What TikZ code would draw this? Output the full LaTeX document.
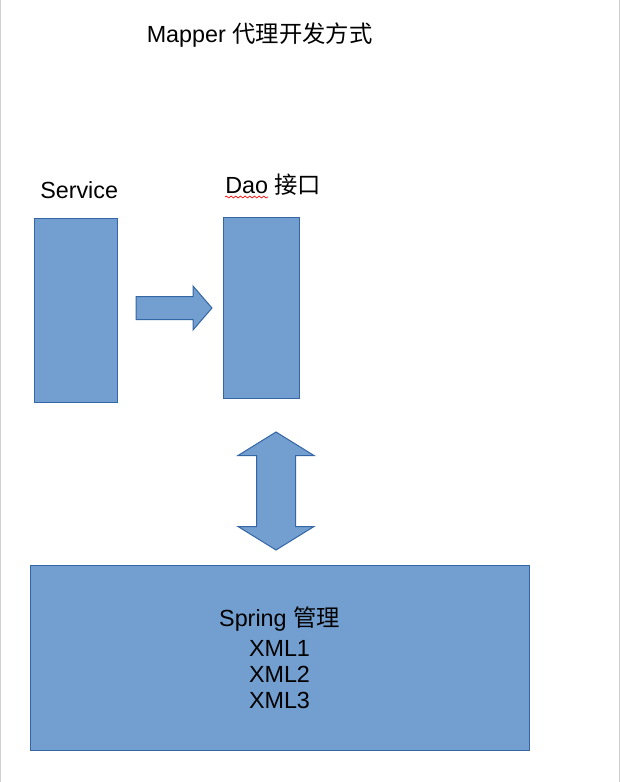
\documentclass[tikz,border=0pt]{standalone}
\usepackage{fontspec}
\setmainfont{Liberation Sans}
\newfontfamily\cjk{Noto Sans CJK SC}
\usetikzlibrary{positioning, calc, decorations.pathmorphing}

\definecolor{boxfill}{HTML}{729FCF}
\definecolor{boxline}{HTML}{3465A4}
\definecolor{pageline}{HTML}{D0D0D0}

\begin{document}
\begin{tikzpicture}[x=0.75pt, y=-0.75pt,
	box/.style={draw=boxline, fill=boxfill, line width=0.75pt, inner sep=0pt},
	blockarrow/.style={draw=boxline, fill=boxfill, line width=0.75pt, line join=miter},
	label/.style={anchor=base west, inner sep=0pt, font=\fontsize{17.5}{19.5}\selectfont},
	edge/.style={draw=pageline, line width=1.1pt}]
		\useasboundingbox (0,0) rectangle (621,782);
		\draw[edge] (0.6,0) -- (0.6,782);
		\draw[edge] (619.6,0) -- (619.6,782);
		
		% title
		\node[label] (title) at (146.5,42.5) {Mapper {\cjk 代理开发方式}};
		
		% top
		\node[box, minimum width=62.25pt, minimum height=138pt] (service) at (75.5,310) {};
		\node[box, minimum width=57pt, minimum height=135.75pt] (dao) at (261,307.5) {};
		\node[label] (servicelabel) at (40,198) {Service};
		\node[label] (daolabel) at (225,193) {Dao {\cjk 接口}};
		\draw[red, line width=0.5pt, decorate, decoration={snake, amplitude=0.7pt, segment length=3.5pt}]
			($(daolabel.base west)+(0,4)$) -- ++(43,0);
		
		% bottom
		\node[box, minimum width=374.25pt, minimum height=138.75pt, align=center,
			font=\fontsize{17.5}{19.5}\selectfont] (spring) at (279.5,657.5)
			{Spring {\cjk 管理}\\[3pt] XML1\\ XML2\\ XML3};
		
		% arrows
		\coordinate (call) at (174,308);
		\coordinate (link) at (276,491);
		\draw[blockarrow] ($(call)+(-38,-11.5)$) -- ++(57,0) -- ++(0,-10.5) -- ++(19,22)
			-- ++(-19,22) -- ++(0,-10.5) -- ++(-57,0) -- cycle;
		\draw[blockarrow] ($(link)+(0,-59)$) -- ++(38,23.5) -- ++(-18.5,0) -- ++(0,71)
			-- ++(18.5,0) -- ++(-38,23.5) -- ++(-38,-23.5) -- ++(18.5,0) -- ++(0,-71)
			-- ++(-18.5,0) -- cycle;
\end{tikzpicture}
\end{document}
